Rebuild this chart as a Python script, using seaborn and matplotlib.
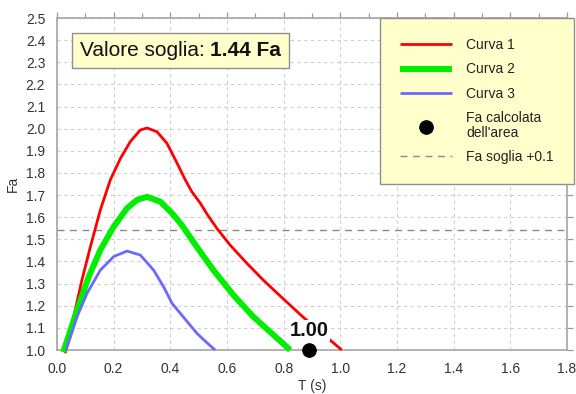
import matplotlib
matplotlib.use("Agg")
import matplotlib.pyplot as plt
import seaborn as sns
import pandas as pd
from matplotlib.ticker import MultipleLocator, FormatStrFormatter
from matplotlib.offsetbox import TextArea, HPacker, AnchoredOffsetbox

# Spectrum curves: period T (s) and amplification factor Fa
curva1_T = [0.029, 0.059, 0.088, 0.118, 0.153, 0.188, 0.224, 0.259, 0.294, 0.318,
            0.353, 0.388, 0.424, 0.453, 0.476, 0.506, 0.529, 0.564, 0.611, 0.67,
            0.728, 0.787, 0.869, 1.005]
curva1_Fa = [0.985, 1.151, 1.316, 1.467, 1.633, 1.768, 1.866, 1.942, 1.994, 2.003,
             1.986, 1.934, 1.844, 1.768, 1.715, 1.663, 1.615, 1.55, 1.474, 1.392,
             1.316, 1.245, 1.148, 1.0]

curva2_T = [0.022, 0.071, 0.112, 0.153, 0.200, 0.247, 0.282, 0.318, 0.365, 0.406,
            0.440, 0.493, 0.552, 0.622, 0.693, 0.764, 0.823]
curva2_Fa = [0.99, 1.181, 1.331, 1.452, 1.557, 1.640, 1.678, 1.692, 1.670, 1.618,
             1.565, 1.467, 1.361, 1.249, 1.150, 1.068, 1.0]

curva3_T = [0.032, 0.071, 0.106, 0.153, 0.200, 0.247, 0.294, 0.341, 0.376, 0.406,
            0.440, 0.494, 0.529, 0.558]
curva3_Fa = [1.0, 1.151, 1.256, 1.361, 1.422, 1.447, 1.429, 1.361, 1.286, 1.211,
             1.158, 1.075, 1.033, 1.0]

# Fa computed from the area, and threshold value
fa_area_T = [0.89]
fa_area = [1.00]
fa_soglia = 1.44
soglia_offset = 0.1

series_names = ["Curva 1", "Curva 2", "Curva 3"]
dot_label = "Fa calcolata\ndell'area"
soglia_label = "Fa soglia +0.1"

sns.set_theme(style="white")
plt.rcParams["font.family"] = ["Liberation Sans", "DejaVu Sans"]
plt.rcParams["text.color"] = "#222222"

fig = plt.figure(figsize=(5.76, 3.94), dpi=100)
ax = fig.add_axes([57 / 576, 1 - 350 / 394, 510 / 576, 332 / 394])

frames = [
    pd.DataFrame({"T": curva1_T, "Fa": curva1_Fa}),
    pd.DataFrame({"T": curva2_T, "Fa": curva2_Fa}),
    pd.DataFrame({"T": curva3_T, "Fa": curva3_Fa}),
]
styles = [("#ff0000", 2.0), ("#00ee00", 4.3), ("#6a6aff", 2.0)]

for df, name, (col, lw) in zip(frames, series_names, styles):
    sns.lineplot(data=df, x="T", y="Fa", sort=False, color=col, linewidth=lw,
                 label=name, ax=ax, clip_on=False, zorder=4)
for ln in ax.get_lines():
    ln.set_solid_joinstyle("round")
    ln.set_solid_capstyle("butt")

sns.scatterplot(x=fa_area_T, y=fa_area, s=95, color="black", edgecolor="black",
                label=dot_label, ax=ax, clip_on=False, zorder=6)

ax.axhline(fa_soglia + soglia_offset, color="#8a8a8a", linewidth=1.0,
           linestyle=(0, (5, 4)), label=soglia_label, zorder=3)

ax.text(fa_area_T[0], fa_area[0] + 0.087, f"{fa_area[0]:.2f}", ha="center",
        va="center", fontsize=14.5, fontweight="bold", color="#111111", zorder=5,
        bbox=dict(facecolor="white", edgecolor="none", pad=0.8))

ax.set_xlim(0, 1.8)
ax.set_ylim(1.0, 2.5)
ax.xaxis.set_major_locator(MultipleLocator(0.2))
ax.xaxis.set_minor_locator(MultipleLocator(0.1))
ax.yaxis.set_major_locator(MultipleLocator(0.1))
ax.xaxis.set_major_formatter(FormatStrFormatter("%.1f"))
ax.yaxis.set_major_formatter(FormatStrFormatter("%.1f"))

ax.grid(True, which="major", color="#cfcfcf", linestyle=(0, (3, 3)), linewidth=0.8)
ax.set_axisbelow(True)

ax.tick_params(axis="both", which="both", direction="out", top=True, right=True,
               color="#9a9a9a", labelsize=10, labelcolor="#333333", width=0.9)
ax.tick_params(axis="both", which="major", length=4.5, pad=4)
ax.tick_params(axis="x", which="minor", length=3.5)
for side in ["left", "right", "top", "bottom"]:
    ax.spines[side].set_visible(True)
    ax.spines[side].set_color("#a5a5a5")
    ax.spines[side].set_linewidth(1.2)

ax.set_xlabel("T (s)", fontsize=10, color="#333333", labelpad=2)
ax.set_ylabel("Fa", fontsize=10, color="#333333", labelpad=4)

handles, labels = ax.get_legend_handles_labels()
leg = ax.legend(handles, labels, loc="upper right",
                bbox_to_anchor=(574 / 576, 1 - 18 / 394),
                bbox_transform=fig.transFigure, fontsize=10, frameon=True,
                fancybox=False, borderpad=1.45, labelspacing=0.74,
                handlelength=3.75, handletextpad=1.0, borderaxespad=0)
leg.get_frame().set_facecolor("#ffffcc")
leg.get_frame().set_edgecolor("#8f8f8f")
leg.get_frame().set_linewidth(1.0)
leg.get_frame().set_alpha(1.0)
for txt in leg.get_texts():
    txt.set_color("#222222")
    txt.set_linespacing(1.05)

# Threshold value box with bold value
ta1 = TextArea("Valore soglia: ", textprops=dict(size=15, color="#111111"))
ta2 = TextArea(f"{fa_soglia:.2f} Fa",
               textprops=dict(size=15, color="#111111", fontweight="bold"))
pack = HPacker(children=[ta1, ta2], align="baseline", pad=0, sep=0)
box = AnchoredOffsetbox(loc="upper left", child=pack, pad=0.38, borderpad=0,
                        frameon=True, prop=dict(size=15),
                        bbox_to_anchor=(72 / 576, 1 - 33 / 394),
                        bbox_transform=fig.transFigure)
box.patch.set_facecolor("#ffffcc")
box.patch.set_edgecolor("#8f8f8f")
box.patch.set_linewidth(1.0)
box.set_zorder(7)
ax.add_artist(box)

fig.savefig("out.png", dpi=100)
